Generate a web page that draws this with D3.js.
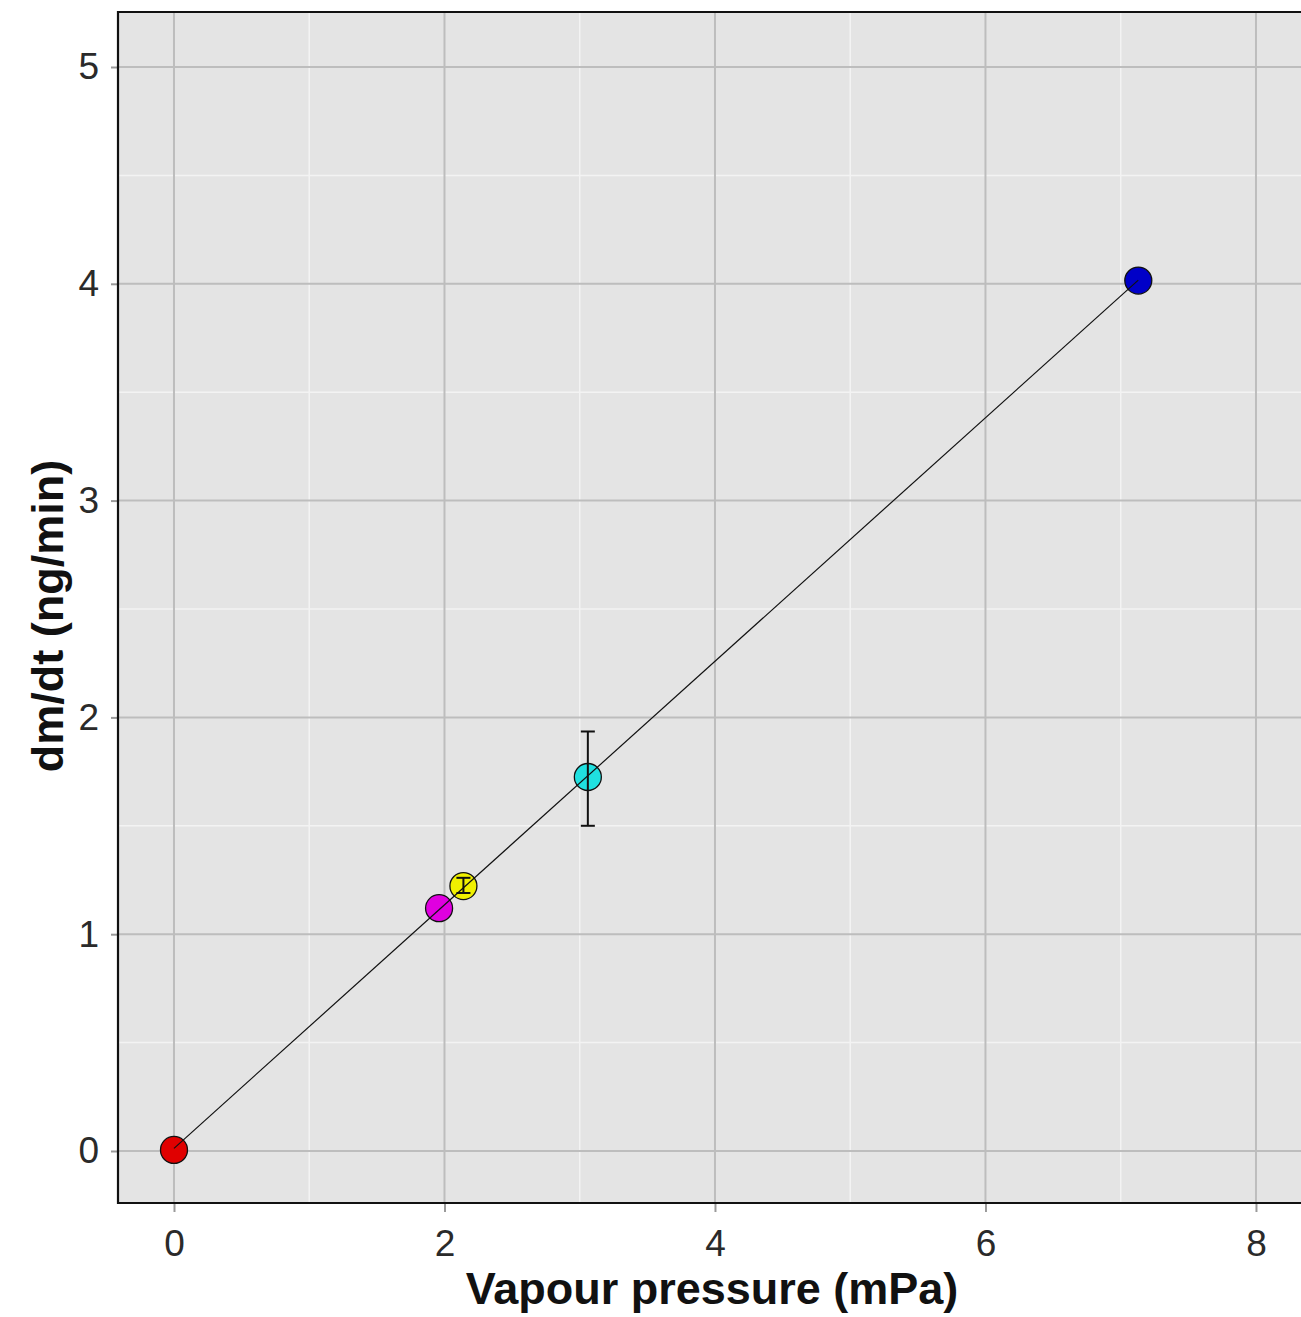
<!DOCTYPE html>
<html><head><meta charset="utf-8">
<script src="https://cdn.jsdelivr.net/npm/d3@7"></script>
<style>body{margin:0;background:#fff}svg{display:block}</style>
</head><body>
<svg id="c" width="1301" height="1317"></svg>
<script>
const vapourPressure = [0, 1.96, 2.14, 3.06, 7.13];
const rate = [0.005, 1.12, 1.222, 1.725, 4.015];
const rateLow = [0.005, 1.12, 1.19, 1.50, 4.015];
const rateHigh = [0.005, 1.12, 1.26, 1.935, 4.015];
const pointColors = ["#e00000", "#e000e0", "#f0f000", "#20e0e0", "#0000c8"];
const xTicks = [0, 2, 4, 6, 8];
const yTicks = [0, 1, 2, 3, 4, 5];
const xMinor = [1, 3, 5, 7];
const yMinor = [0.5, 1.5, 2.5, 3.5, 4.5];

const svg = d3.select("#c");
const L = 118, T = 12, R = 1301, B = 1203;
const x = d3.scaleLinear().domain([-0.414, 8.333]).range([L, R]);
const y = d3.scaleLinear().domain([-0.2399, 5.2537]).range([B, T]);

svg.append("rect").attr("x", L).attr("y", T).attr("width", R - L + 5).attr("height", B - T).attr("fill", "#e4e4e4");

// minor grid
svg.selectAll(".xm").data(xMinor).enter().append("line")
  .attr("x1", d => x(d)).attr("x2", d => x(d)).attr("y1", T).attr("y2", B)
  .attr("stroke", "#f3f3f3").attr("stroke-width", 1.5);
svg.selectAll(".ym").data(yMinor).enter().append("line")
  .attr("x1", L).attr("x2", R).attr("y1", d => y(d)).attr("y2", d => y(d))
  .attr("stroke", "#f3f3f3").attr("stroke-width", 1.5);
// major grid
svg.selectAll(".xM").data(xTicks).enter().append("line")
  .attr("x1", d => x(d)).attr("x2", d => x(d)).attr("y1", T).attr("y2", B)
  .attr("stroke", "#bdbdbd").attr("stroke-width", 2);
svg.selectAll(".yM").data(yTicks).enter().append("line")
  .attr("x1", L).attr("x2", R).attr("y1", d => y(d)).attr("y2", d => y(d))
  .attr("stroke", "#bdbdbd").attr("stroke-width", 2);

// axes
const xAxis = d3.axisBottom(x).tickValues(xTicks).tickSize(9).tickPadding(18).tickFormat(d3.format("d"));
const gx = svg.append("g").attr("transform", `translate(0,${B})`).call(xAxis);
gx.select(".domain").remove();
gx.selectAll("line").attr("stroke", "#9a9a9a").attr("stroke-width", 2);
gx.selectAll("text").attr("font-family", "Liberation Sans, Arial, sans-serif").attr("font-size", 37).attr("fill", "#2a2a2a");

const yAxis = d3.axisLeft(y).tickValues(yTicks).tickSize(7).tickPadding(12).tickFormat(d3.format("d"));
const gy = svg.append("g").attr("transform", `translate(${L},0)`).call(yAxis);
gy.select(".domain").remove();
gy.selectAll("line").attr("stroke", "#9a9a9a").attr("stroke-width", 2);
gy.selectAll("text").attr("font-family", "Liberation Sans, Arial, sans-serif").attr("font-size", 37).attr("fill", "#2a2a2a");

// border (left, top, bottom)
svg.append("path").attr("d", `M${R + 5},${T} H${L} V${B} H${R + 5}`)
  .attr("fill", "none").attr("stroke", "#111").attr("stroke-width", 2.2);

const data = vapourPressure.map((v, i) => ({x: v, y: rate[i], lo: rateLow[i], hi: rateHigh[i], c: pointColors[i]}));

// points
svg.selectAll(".pt").data(data).enter().append("circle")
  .attr("cx", d => x(d.x)).attr("cy", d => y(d.y)).attr("r", 13.5)
  .attr("fill", d => d.c).attr("stroke", "#111").attr("stroke-width", 1.3);

// error bars
const eb = svg.selectAll(".eb").data(data.filter(d => d.hi - d.lo > 0)).enter().append("g");
eb.append("line").attr("x1", d => x(d.x)).attr("x2", d => x(d.x)).attr("y1", d => y(d.lo)).attr("y2", d => y(d.hi))
  .attr("stroke", "#111").attr("stroke-width", 2);
eb.append("line").attr("x1", d => x(d.x) - 7).attr("x2", d => x(d.x) + 7).attr("y1", d => y(d.lo)).attr("y2", d => y(d.lo))
  .attr("stroke", "#111").attr("stroke-width", 2);
eb.append("line").attr("x1", d => x(d.x) - 7).attr("x2", d => x(d.x) + 7).attr("y1", d => y(d.hi)).attr("y2", d => y(d.hi))
  .attr("stroke", "#111").attr("stroke-width", 2);

// linear fit
const mx = d3.mean(data, d => d.x), my = d3.mean(data, d => d.y);
const slope = d3.sum(data, d => (d.x - mx) * (d.y - my)) / d3.sum(data, d => (d.x - mx) ** 2);
const icpt = my - slope * mx;
const xs = d3.extent(vapourPressure);
svg.append("path").datum(xs)
  .attr("d", d3.line().x(d => x(d)).y(d => y(icpt + slope * d)))
  .attr("stroke", "#111").attr("stroke-width", 1.2).attr("fill", "none");

// titles
svg.append("text").attr("x", 712).attr("y", 1304).attr("text-anchor", "middle")
  .attr("font-family", "Liberation Sans, Arial, sans-serif").attr("font-weight", "bold").attr("font-size", 45)
  .attr("fill", "#111").text("Vapour pressure (mPa)");
svg.append("text").attr("transform", "translate(63,616) rotate(-90)").attr("text-anchor", "middle")
  .attr("font-family", "Liberation Sans, Arial, sans-serif").attr("font-weight", "bold").attr("font-size", 45)
  .attr("fill", "#111").text("dm/dt (ng/min)");
</script>
</body></html>
